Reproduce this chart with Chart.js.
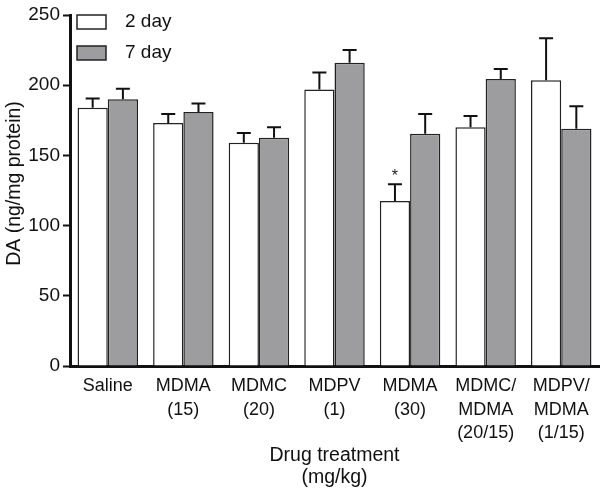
<!DOCTYPE html>
<html>
<head>
<meta charset="utf-8">
<script src="https://cdn.jsdelivr.net/npm/chart.js@4"></script>
<style>
    html, body { margin: 0; padding: 0; background: #fff; }
    #wrap { width: 604px; height: 494px; }
</style>
</head>
<body>
<div id="wrap"><canvas id="daChart" width="604" height="494"></canvas></div>
<script>
var treatments = [['Saline'], ['MDMA', '(15)'], ['MDMC', '(20)'], ['MDPV', '(1)'], ['MDMA', '(30)'], ['MDMC/', 'MDMA', '(20/15)'], ['MDPV/', 'MDMA', '(1/15)']];
var day2 = [184, 173, 159, 197, 117.5, 170, 203.5];
var day2Err = [6.5, 6.5, 7, 12, 12, 8, 30];
var day7 = [190, 181, 162.5, 216, 165.5, 204.5, 169];
var day7Err = [7.5, 6, 7.5, 9, 14, 7, 16];
var seriesNames = ['2 day', '7 day'];
var starred = [4]; // index of 2 day bars marked with *
var yTicks = [0, 50, 100, 150, 200, 250];
var yTitle = 'DA (ng/mg protein)';

var fontFamily = "'Liberation Sans', Arial, sans-serif";
var grayFill = '#9d9da0';

//error bars (upper only), star, legend and y title
var extrasPlugin = {
    id: 'extras',
    afterDatasetsDraw: function (chart) {
        var ctx = chart.ctx;
        var yScale = chart.scales.y;
        var errs = [day2Err, day7Err];
        ctx.save();
        ctx.strokeStyle = '#111';
        ctx.lineWidth = 2;
        chart.data.datasets.forEach(function (ds, di) {
            var meta = chart.getDatasetMeta(di);
            meta.data.forEach(function (bar, i) {
                var top = yScale.getPixelForValue(ds.data[i] + errs[di][i]);
                ctx.beginPath();
                ctx.moveTo(bar.x, bar.y);
                ctx.lineTo(bar.x, top);
                ctx.moveTo(bar.x - 7, top);
                ctx.lineTo(bar.x + 7, top);
                ctx.stroke();
            });
        });

        ctx.fillStyle = '#222';
        ctx.font = '16px ' + fontFamily;
        ctx.textAlign = 'center';
        ctx.textBaseline = 'middle';
        starred.forEach(function (i) {
            var bar = chart.getDatasetMeta(0).data[i];
            var top = yScale.getPixelForValue(day2[i] + day2Err[i]);
            ctx.fillText('*', bar.x, top - 8);
        });

        //legend
        var area = chart.chartArea;
        var fills = ['#ffffff', grayFill];
        ctx.font = '19px ' + fontFamily;
        ctx.textAlign = 'left';
        ctx.lineWidth = 1.5;
        seriesNames.forEach(function (name, k) {
            var bx = area.left + 7;
            var by = area.top + k * 31;
            ctx.fillStyle = fills[k];
            ctx.fillRect(bx, by, 29, 14);
            ctx.strokeStyle = '#222';
            ctx.strokeRect(bx, by, 29, 14);
            ctx.fillStyle = '#111';
            ctx.fillText(name, bx + 48, by + 7);
        });

        //y axis title
        ctx.translate(15, (area.top + area.bottom) / 2 - 7);
        ctx.rotate(-Math.PI / 2);
        ctx.textAlign = 'center';
        ctx.font = '19.5px ' + fontFamily;
        ctx.fillText(yTitle, 0, 0);
        ctx.restore();
    }
};

var ctx = document.getElementById('daChart');
var chart = new Chart(ctx, {
    type: 'bar',
    data: {
        labels: treatments,
        datasets: [
            {
                label: seriesNames[0],
                data: day2,
                backgroundColor: '#ffffff',
                borderColor: '#222',
                borderWidth: 1.5
            },
            {
                label: seriesNames[1],
                data: day7,
                backgroundColor: grayFill,
                borderColor: '#222',
                borderWidth: 1.5
            }
        ]
    },
    options: {
        responsive: false,
        animation: false,
        devicePixelRatio: 1,
        layout: { padding: { left: 0, right: 5, top: 15, bottom: 0 } },
        datasets: {
            bar: { categoryPercentage: 0.8, barPercentage: 1.0 }
        },
        plugins: {
            legend: { display: false },
            tooltip: { enabled: false }
        },
        scales: {
            x: {
                grid: { display: false },
                border: { display: true, color: '#111', width: 3 },
                ticks: {
                    color: '#111',
                    maxRotation: 0,
                    autoSkip: false,
                    padding: 0,
                    font: { family: fontFamily, size: 18, lineHeight: 1.32 }
                },
                title: {
                    display: true,
                    text: ['Drug treatment', '(mg/kg)'],
                    color: '#111',
                    font: { family: fontFamily, size: 19.5, lineHeight: 1.15 },
                    padding: { top: 4, bottom: 5 }
                },
                afterFit: function (scale) { scale.height = 128; }
            },
            y: {
                min: 0,
                max: 250,
                afterBuildTicks: function (scale) {
                    scale.ticks = yTicks.map(function (v) { return { value: v }; });
                },
                grid: {
                    drawOnChartArea: false,
                    drawTicks: true,
                    tickLength: 7,
                    tickColor: '#111',
                    tickWidth: 2
                },
                border: { display: true, color: '#111', width: 3 },
                ticks: {
                    color: '#111',
                    padding: 3,
                    font: { family: fontFamily, size: 19 }
                },
                afterFit: function (scale) { scale.width = 70; }
            }
        }
    },
    plugins: [extrasPlugin]
});
</script>
</body>
</html>
